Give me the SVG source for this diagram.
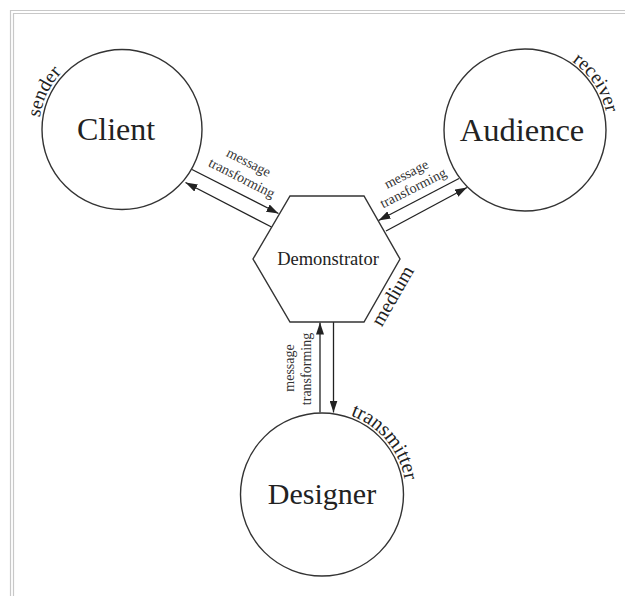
<svg xmlns="http://www.w3.org/2000/svg" width="625" height="596" viewBox="0 0 625 596">
<style>
.frame{fill:none;stroke:#c8c8c8;stroke-width:1.2}
.node{fill:#fff;stroke:#333;stroke-width:1.4}
.conn{fill:none;stroke:#222;stroke-width:1.3}
.big{font-family:"Liberation Serif","Times New Roman",serif;fill:#222;text-anchor:middle}
.lab{font-family:"Liberation Serif","Times New Roman",serif;fill:#222}
.small{font-family:"Liberation Serif","Times New Roman",serif;fill:#333;font-size:14px;text-anchor:middle}
</style>
<defs>
<marker id="arr" viewBox="0 0 12 8" refX="12" refY="4" markerWidth="12" markerHeight="8" markerUnits="userSpaceOnUse" orient="auto-start-reverse">
<path d="M0,0 L12,4 L0,8 z" fill="#222"/>
</marker>
<path id="arcSender" d="M39,129.5 A83 83 0 0 1 122,46.5"/>
<path id="arcReceiver" d="M525,47 A83 83 0 0 1 608,130"/>
<path id="arcTransmitter" d="M322,410.5 A84 84 0 0 1 406,494.5"/>
</defs>
<rect width="625" height="596" fill="#fff"/>
<path class="frame" d="M10.5,596 V10.5 H625"/>
<path class="frame" d="M13.5,596 V13.5 H625"/>

<g id="connectors">
<line class="conn" x1="192" y1="169.5" x2="278.5" y2="213.5" marker-end="url(#arr)"/>
<line class="conn" x1="185.5" y1="182.5" x2="271.5" y2="227" marker-start="url(#arr)"/>
<line class="conn" x1="459" y1="178.5" x2="378.5" y2="220.5" marker-end="url(#arr)"/>
<line class="conn" x1="386" y1="231" x2="467" y2="187.5" marker-end="url(#arr)"/>
<line class="conn" x1="320" y1="412.5" x2="320" y2="322.5" marker-end="url(#arr)"/>
<line class="conn" x1="333.5" y1="322" x2="333.5" y2="412.5" marker-end="url(#arr)"/>
<g transform="translate(248.3,163.3) rotate(27)"><text class="small" dy="0.25em">message</text></g>
<g transform="translate(241.7,178.3) rotate(27)"><text class="small" dy="0.3em">transforming</text></g>
<g transform="translate(406.7,175) rotate(-27)"><text class="small" dy="0.25em">message</text></g>
<g transform="translate(413.3,188.3) rotate(-27)"><text class="small" dy="0.3em">transforming</text></g>
<g transform="translate(290,368) rotate(-90)"><text class="small" dy="0.25em">message</text></g>
<g transform="translate(307,369) rotate(-90)"><text class="small" dy="0.3em">transforming</text></g>
</g>

<g id="client">
<circle class="node" cx="122" cy="129.5" r="80"/>
<text class="big" x="116" y="140" font-size="32">Client</text>
<text class="lab" font-size="19.5"><textPath href="#arcSender" startOffset="12">sender</textPath></text>
</g>

<g id="audience">
<circle class="node" cx="525" cy="130" r="81"/>
<text class="big" x="522" y="141" font-size="32.5">Audience</text>
<text class="lab" font-size="19.5"><textPath href="#arcReceiver" startOffset="50">receiver</textPath></text>
</g>

<g id="designer">
<circle class="node" cx="322" cy="494.5" r="81.5"/>
<text class="big" x="322" y="504" font-size="30">Designer</text>
<text class="lab" font-size="20.5"><textPath href="#arcTransmitter" startOffset="29">transmitter</textPath></text>
</g>

<g id="demonstrator">
<polygon class="node" points="290,196 364,196 400,259 364,322 290,322 253,259"/>
<text class="big" x="328" y="265" font-size="18.5">Demonstrator</text>
<g transform="translate(393,296) rotate(-60)"><text class="big" font-size="20" dy="0.3em">medium</text></g>
</g>
</svg>
